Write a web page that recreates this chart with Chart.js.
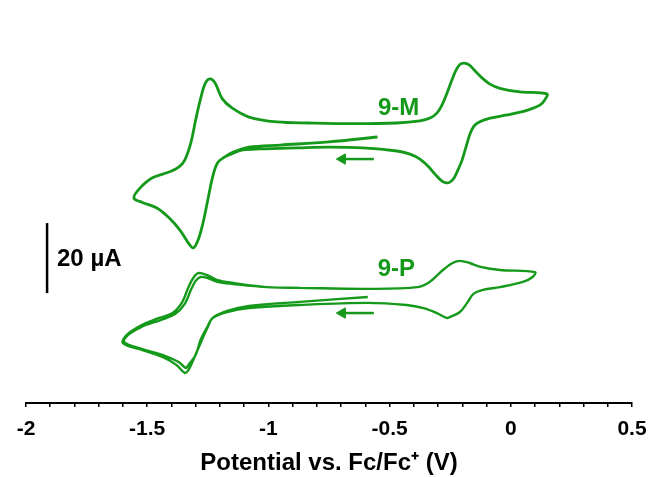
<!DOCTYPE html>
<html>
<head>
<meta charset="utf-8">
<script src="https://cdn.jsdelivr.net/npm/chart.js@4/dist/chart.umd.min.js"></script>
<style>
  html, body { margin: 0; padding: 0; background: #fff; }
  canvas { display: block; }
</style>
</head>
<body>
<canvas id="cv" width="651" height="477"></canvas>
<script>
// Cyclic voltammograms, [potential (V vs Fc/Fc+), current (µA, traces offset)]
const cv_9M = [
  [-0.55,76.0],[-0.75,74.6],[-0.95,73.7],[-1.08,73.1],[-1.145,71.7],
  [-1.18,70.3],[-1.21,68.6],[-1.23,64.6],[-1.25,58.0],[-1.27,51.4],[-1.29,46.6],[-1.31,44.3],
  [-1.33,45.7],[-1.365,49.4],[-1.41,52.9],[-1.46,55.7],[-1.52,57.3],[-1.555,58.6],
  [-1.53,61.4],[-1.48,64.3],[-1.41,66.0],[-1.37,67.4],[-1.345,69.4],[-1.32,74.3],[-1.30,80.9],
  [-1.28,86.9],[-1.26,91.4],[-1.24,92.6],[-1.22,91.4],[-1.19,86.9],[-1.15,84.3],[-1.08,81.7],
  [-0.965,80.3],[-0.83,80.0],[-0.65,79.8],[-0.47,80.0],[-0.375,80.6],[-0.333,81.4],[-0.304,82.9],
  [-0.284,85.1],[-0.263,88.6],[-0.243,92.3],[-0.226,95.1],[-0.210,96.7],[-0.193,97.1],[-0.172,96.6],
  [-0.148,94.9],[-0.119,92.9],[-0.086,91.1],[-0.045,89.9],[0.038,88.9],[0.149,88.3],
  [0.14,86.6],[0.12,85.1],[0.07,83.7],[-0.015,82.3],[-0.085,81.4],[-0.13,80.3],[-0.152,79.1],
  [-0.168,76.9],[-0.185,73.1],[-0.201,69.4],[-0.218,66.6],[-0.234,64.3],[-0.251,63.1],[-0.267,62.9],
  [-0.284,63.4],[-0.309,65.1],[-0.342,67.7],[-0.375,69.7],[-0.416,71.1],[-0.469,72.0],[-0.61,72.9],
  [-0.75,73.1],[-0.88,72.9],[-1.035,72.6],[-1.105,72.3],[-1.145,71.4],[-1.18,70.3]
];

const cv_9P = [
  [-0.59,30.3],[-0.87,28.9],[-1.08,27.7],[-1.17,26.3],[-1.23,24.3],
  [-1.25,21.7],[-1.28,17.1],[-1.31,12.3],[-1.33,9.4],[-1.345,8.6],[-1.38,10.9],[-1.435,13.1],
  [-1.52,15.1],[-1.60,17.1],
  [-1.585,19.4],[-1.53,22.0],[-1.45,24.3],[-1.395,25.7],[-1.355,28.9],[-1.33,33.1],[-1.31,35.7],
  [-1.29,37.1],[-1.255,36.6],[-1.21,35.1],[-1.145,34.3],[-1.005,33.1],[-0.87,32.9],[-0.59,32.6],
  [-0.385,33.1],[-0.335,34.6],[-0.28,38.0],[-0.24,40.0],[-0.21,40.6],[-0.17,40.0],[-0.125,38.9],
  [-0.045,38.0],[0.10,37.4],
  [0.09,36.0],[0.05,34.6],[-0.045,33.1],[-0.115,32.3],[-0.155,31.1],[-0.18,28.6],[-0.21,26.0],
  [-0.25,24.6],[-0.265,24.3],[-0.305,25.7],[-0.36,27.1],[-0.43,28.0],[-0.59,28.6],[-0.87,28.0],
  [-1.08,27.1],[-1.17,26.0],[-1.23,24.3],
  [-1.25,22.0],[-1.28,18.0],[-1.30,13.7],[-1.33,10.9],[-1.34,10.0],[-1.37,11.7],[-1.435,13.7],
  [-1.52,15.4],[-1.595,17.4],
  [-1.58,19.4],[-1.525,21.7],[-1.445,23.7],[-1.385,25.4],[-1.345,28.3],[-1.32,32.3],[-1.30,34.9],
  [-1.28,36.0],[-1.25,35.7],[-1.21,34.6],[-1.145,34.0],[-1.005,33.1],[-0.87,32.9]
];

// Scan-direction arrows: [tail potential, head potential, current]
const arrow_9M = [-0.565, -0.695, 69.7];
const arrow_9P = [-0.565, -0.695, 25.7];

// 20 µA scale bar: [potential, bottom current, top current]
const scale_bar = [-1.913, 31.4, 51.4];

const x_ticks = [-2, -1.5, -1, -0.5, 0, 0.5];
const x_tick_labels = ['-2', '-1.5', '-1', '-0.5', '0', '0.5'];

const GREEN = '#14991a';
const FONT = "Arial, 'Liberation Sans', Helvetica, sans-serif";

const toPts = arr => arr.map(([x, y]) => ({ x, y }));

const arrowSet = a => [
  { data: [{ x: a[0], y: a[2] }, { x: a[1], y: a[2] }], showLine: true, borderColor: GREEN,
    borderWidth: 2.5, pointRadius: 0, tension: 0 },
  { data: [{ x: a[1], y: a[2] }], showLine: false, pointStyle: 'triangle', pointRotation: -90,
    pointRadius: 6, backgroundColor: GREEN, borderColor: GREEN, borderWidth: 1 }
];

// Text annotations anchored in data coordinates
const annotations = [
  { text: '9-M', x: -0.463, y: 84.3, color: GREEN, align: 'center' },
  { text: '9-P', x: -0.472, y: 38.3, color: GREEN, align: 'center' },
  { text: '20 µA', x: -1.872, y: 40.9, color: '#000', align: 'left' }
];

const textPlugin = {
  id: 'cvText',
  afterDatasetsDraw(chart) {
    const { ctx, scales: { x, y } } = chart;
    ctx.save();
    ctx.font = 'bold 24px ' + FONT;
    ctx.textBaseline = 'middle';
    annotations.forEach(a => {
      ctx.fillStyle = a.color;
      ctx.textAlign = a.align;
      ctx.fillText(a.text, x.getPixelForValue(a.x), y.getPixelForValue(a.y));
    });
    ctx.restore();
  }
};

new Chart(document.getElementById('cv'), {
  type: 'scatter',
  data: {
    datasets: [
      { data: [{ x: scale_bar[0], y: scale_bar[1] }, { x: scale_bar[0], y: scale_bar[2] }],
        showLine: true, borderColor: '#000', borderWidth: 2.5, pointRadius: 0, tension: 0 },
      { label: '9-M', data: toPts(cv_9M), showLine: true, borderColor: GREEN, borderWidth: 2.8,
        pointRadius: 0, tension: 0.35, fill: false },
      { label: '9-P', data: toPts(cv_9P), showLine: true, borderColor: GREEN, borderWidth: 2.4,
        pointRadius: 0, tension: 0.35, fill: false },
      ...arrowSet(arrow_9M),
      ...arrowSet(arrow_9P)
    ]
  },
  options: {
    responsive: false,
    animation: false,
    devicePixelRatio: 1,
    layout: { padding: { left: 26, right: 19, top: 11, bottom: 0 } },
    plugins: { legend: { display: false }, tooltip: { enabled: false } },
    scales: {
      x: {
        type: 'linear',
        min: -2, max: 0.5,
        // the end labels fit inside the layout padding, so no extra side padding is reserved
        afterFit: s => { s.paddingLeft = 0; s.paddingRight = 0; },
        grid: { display: true, drawOnChartArea: false, drawTicks: true, tickLength: 4,
                color: '#000', lineWidth: 1.5 },
        border: { display: true, color: '#000', width: 2 },
        ticks: {
          stepSize: 0.1,
          autoSkip: false,
          maxRotation: 0,
          padding: 10,
          color: '#000',
          font: { family: FONT, size: 21, weight: 'bold' },
          callback: v => {
            const i = x_ticks.findIndex(t => Math.abs(t - v) < 1e-6);
            return i >= 0 ? x_tick_labels[i] : '';
          }
        },
        title: {
          display: true,
          text: 'Potential vs. Fc/Fc⁺ (V)',
          color: '#000',
          font: { family: FONT, size: 24, weight: 'bold' },
          padding: { top: -3, bottom: -1 }
        }
      },
      y: { type: 'linear', display: false, min: 0, max: 112 }
    }
  },
  plugins: [textPlugin]
});
</script>
</body>
</html>
